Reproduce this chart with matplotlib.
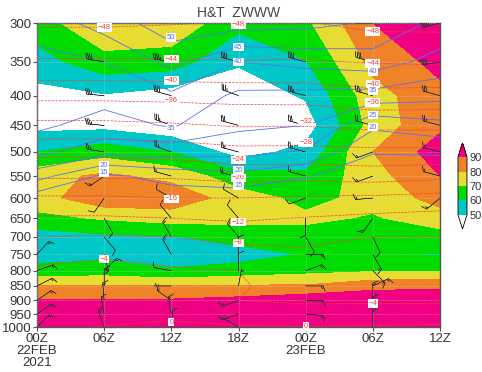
import matplotlib
matplotlib.use("Agg")
import matplotlib.pyplot as plt
import numpy as np

plt.rcParams['font.family'] = ['Liberation Sans', 'DejaVu Sans']

hours = [0, 6, 12, 18, 24, 30, 36]
time_labels = ['00Z\n22FEB\n2021', '06Z', '12Z', '18Z', '00Z\n23FEB', '06Z', '12Z']
levels_hpa = [300, 350, 400, 450, 500, 550, 600, 650, 700, 750, 800, 850, 900, 950, 1000]

# relative humidity, one list per time, 300 hPa first
rh = np.array([
    [65, 56, 46, 47, 60, 76, 76, 67, 55, 55, 64, 80, 90.5, 95, 97],
    [79, 66, 49, 47, 66, 82, 87, 71, 58, 57, 65, 80, 91, 96, 98],
    [77, 65, 45, 43, 60, 77, 87, 74, 59, 55, 61, 80, 91, 96, 98],
    [63, 51, 44, 40, 46, 64, 75, 73, 64, 56, 64, 81, 93, 96, 98],
    [68, 59.5, 51, 45, 53, 62, 67, 72, 66, 60.5, 67, 81, 97, 98, 99],
    [90, 83, 76, 74, 80, 76, 73, 69, 65, 60.1, 69, 87, 97, 98, 99],
    [98, 93, 87, 88, 95, 90, 84, 75, 66, 59.5, 69.5, 88, 97, 98, 99],
]).T

# temperature, degC
temp = np.array([
    [-48.5, -43.5, -37, -31, -25, -20.5, -15.5, -11.5, -8, -5, -3.5, -3, -2.5, -1.5, -0.5],
    [-48.5, -43.5, -37, -31, -25, -20.5, -15.5, -11.5, -7.7, -4.6, -2.5, -2, -1.5, -1, 0.1],
    [-48.2, -43.6, -37.2, -31.5, -25.5, -20.5, -16, -12, -8, -5.5, -3.5, -2.5, -2, -0.5, 0.5],
    [-47.8, -43.8, -37.5, -32.3, -26.7, -21.5, -16, -12.6, -9.2, -6.5, -4, -3.3, -4, -2, 0.3],
    [-47.8, -43.7, -37.6, -32.2, -26.6, -21.3, -15.5, -11.8, -8.5, -7.6, -7.5, -7, -4.5, -2.5, 0.1],
    [-49, -44.2, -38.7, -33, -27, -21.8, -15.2, -11, -8, -7.2, -7, -6.5, -4.5, -2.3, 0.3],
    [-49, -44.5, -38.5, -33, -27, -21, -14.5, -10.5, -8, -7, -6.8, -6.5, -4.5, -2, 0.5],
]).T

# wind speed
speed = np.array([
    [42, 38.5, 37, 36, 31.5, 22, 12, 12, 13, 13, 13, 13, 13, 13, 13],
    [47, 40, 36.7, 33, 26.7, 14, 11, 10, 9, 13, 13, 13, 13, 13, 13],
    [53, 46.5, 39, 35.5, 27, 17, 12, 11, 13, 13, 8, 7, 13, 13, 8],
    [52, 40, 34, 31, 26.5, 18.5, 12, 11, 13, 9, 8, 7, 13, 13, 6],
    [51.5, 41.4, 33.6, 30, 24.5, 15.3, 11, 10, 10, 13, 13, 13, 13, 13, 13],
    [49.5, 42.5, 33, 21, 15.2, 13, 13, 13, 10, 13, 13, 13, 13, 13, 13],
    [43.7, 38, 31.5, 23.5, 15.3, 13, 13, 10, 10, 10, 10, 10, 10, 10, 10],
]).T

# direction the wind comes from, degrees. nan = no barb drawn
wind_dir = np.array([
    [280, 280, 280, 280, 280, 280, 280, 280, 280, 42, 70, 63, 55, 55, 45],
    [np.nan, 280, 275, 275, 280, 235, 215, 150, 140, 165, 45, 0, 355, 350, 340],
    [285, 280, 285, 290, 290, 285, 300, 320, 330, 330, 280, 270, 305, 350, 5],
    [280, 285, 290, 285, 285, 280, 300, 320, 320, 0, 0, 10, 250, 250, 300],
    [np.nan, 285, 285, 285, 285, 285, 250, 180, 150, 90, 70, 90, 90, 95, 100],
    [270, 285, 285, 285, 250, 250, 265, 215, 155, 150, 135, 65, 0, 0, 0],
    [255, 260, 285, 285, 285, 285, 230, 90, 90, 90, 90, 90, 90, 90, 90],
]).T

rh_levels = [50, 60, 70, 80, 90]
rh_colors = ['white', '#00c8c8', '#00dc00', '#e6dc32', '#f08228', '#f00082']
temp_levels = list(range(-48, 4, 4))
speed_levels = [15, 20, 25, 30, 35, 40, 45, 50]

temp_labels = [(6, 305, -48), (12, 346, -44), (12, 377, -40), (12, 407, -36),
               (18, 302, -48), (18, 554, -20), (18, 516, -24), (24, 444, -32),
               (24, 481, -28), (12, 602, -16), (18, 660, -12), (18, 717, -8),
               (6, 764, -4), (30, 310, -48), (30, 352, -44), (30, 382, -40),
               (30, 411, -36), (30, 912, -4), (12, 981, 0), (24, 998, 0)]
speed_labels = [(12, 318, 50), (18, 330, 45), (18, 350, 40), (12, 456, 35),
                (6, 527, 20), (6, 543, 15), (18, 538, 20), (18, 572, 15),
                (30, 364, 40), (30, 392, 35), (30, 432, 25), (30, 453, 20)]


fig = plt.figure(figsize=(4.82, 3.72), dpi=100)
ax = fig.add_axes([37/482, 1-327/372, 403/482, 304/372])

cf = ax.contourf(hours, levels_hpa, rh, levels=rh_levels, colors=rh_colors, extend='both')
ax.contour(hours, levels_hpa, temp, levels=temp_levels, colors='#fa3c3c', linewidths=0.5,
           linestyles='--', negative_linestyles='--')
ax.contour(hours, levels_hpa, speed, levels=speed_levels, colors='#5a70f0', linewidths=0.6)

hh, pp = np.meshgrid(hours, levels_hpa)
ok = ~np.isnan(wind_dir)
u = -speed[ok] * np.sin(np.radians(wind_dir[ok]))
v = -speed[ok] * np.cos(np.radians(wind_dir[ok]))
ax.barbs(hh[ok], pp[ok], u, v, length=5, linewidth=0.35, color='#333333',
         sizes=dict(spacing=0.1, height=0.32),
         barb_increments=dict(half=5, full=10, flag=500), clip_on=True, zorder=4)

for t, p, val in temp_labels:
    ax.text(t, p, str(val).replace('-', '\u2212'), color='#fa3c3c', fontsize=5.5, ha='center',
            va='center', zorder=5, bbox=dict(fc='white', ec='none', pad=0.6))
for t, p, val in speed_labels:
    ax.text(t, p, str(val), color='#5a70f0', fontsize=5.5, ha='center',
            va='center', zorder=5, bbox=dict(fc='white', ec='none', pad=0.6))

ax.set_yscale('log')
ax.set_ylim(1000, 300)
ax.set_xlim(0, 36)
ax.set_yticks(levels_hpa)
ax.set_yticklabels([str(p) for p in levels_hpa])
ax.minorticks_off()
ax.set_xticks(hours)
ax.set_xticklabels(time_labels, linespacing=1.0)
ax.tick_params(labelsize=9.5, length=3, width=0.8, color='#555555', labelcolor='#333333', pad=1)
ax.grid(True, color='#d8d8d8', linestyle=':', linewidth=0.5, alpha=0.8)
ax.set_axisbelow(False)
for s in ax.spines.values():
    s.set_color('#555555')
    s.set_linewidth(1.0)
ax.set_title('H&T  ZWWW', fontsize=10, color='#444444', pad=4)

cax = fig.add_axes([458/482, 1-229/372, 9/482, 86/372])
cb = fig.colorbar(cf, cax=cax, extend='both', extendfrac=0.25, ticks=rh_levels)
cb.ax.tick_params(labelsize=8, length=0, pad=2, labelcolor='#333333')
cb.outline.set_linewidth(0.6)
cb.dividers.set_color('#333333')

plt.savefig('out.png', dpi=100)
